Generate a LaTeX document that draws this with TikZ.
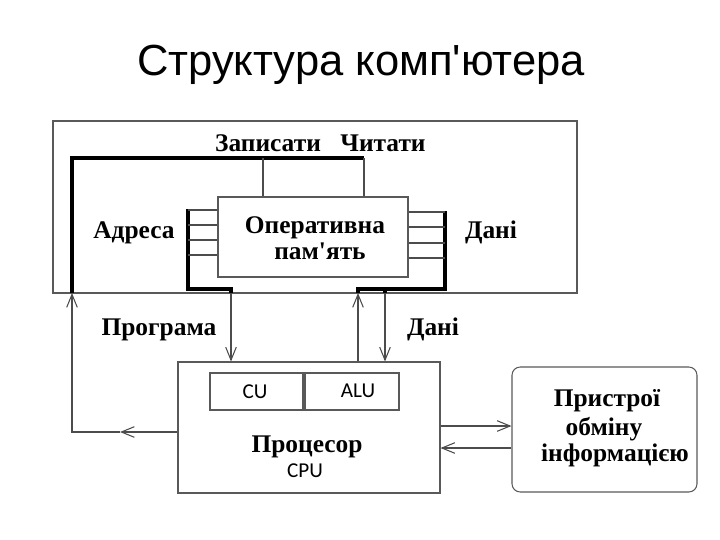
\documentclass[tikz,border=0pt]{standalone}
\usepackage{fontspec}
\setmainfont{Liberation Serif}[Ligatures=TeXOff]
\newfontfamily\titlefont{Liberation Sans}[Ligatures=TeXOff]
\newfontfamily\califont{Carlito}
\usetikzlibrary{arrows.meta}

\tikzset{
  wire/.style={draw=black!70, line width=0.9pt},
  bus/.style={draw=black, line width=3.2pt, line join=miter},
  blk/.style={draw=black!65, line width=0.9pt, inner sep=0pt},
  lbl/.style={font=\bfseries\fontsize{21.6}{25}\selectfont, anchor=base, inner sep=0pt},
  sml/.style={font=\califont\fontsize{18}{21}\selectfont, anchor=base, inner sep=0pt},
  arr/.style={-{Straight Barb[length=11pt,width=9pt]}},
}

\begin{document}
\begin{tikzpicture}[x=0.85pt, y=-0.85pt]
    \useasboundingbox (0,0) rectangle (720,540);
    % заголовок
    \node[font=\titlefont\fontsize{37}{44}\selectfont, anchor=base] (title) at (361,75) {Структура комп'ютера};

    % пам'ять
    \node[blk, minimum width=524*0.85pt, minimum height=172*0.85pt] (mem) at (315,207) {};
    \node[blk, minimum width=190*0.85pt, minimum height=80*0.85pt] (ram) at (313,237) {};
    \node[lbl] (ramA) at (315,233) {Оперативна};
    \node[lbl] (ramB) at (320,259) {пам'ять};
    \node[lbl] (wr) at (268,151) {Записати};
    \node[lbl] (rd) at (383,151) {Читати};
    \node[lbl] (adr) at (134,238) {Адреса};
    \node[lbl] (dat) at (491,238) {Дані};

    % процесор
    \node[blk, minimum width=262*0.85pt, minimum height=131*0.85pt] (cpu) at (309,427.5) {};
    \node[blk, minimum width=93*0.85pt, minimum height=37*0.85pt] (cu) at (256.5,391.5) {};
    \node[blk, minimum width=94*0.85pt, minimum height=37*0.85pt] (alu) at (352,391.5) {};
    \node[sml] (cuT) at (255,398) {CU};
    \node[sml] (aluT) at (358,397) {ALU};
    \node[lbl] (cpuA) at (307,452) {Процесор};
    \node[sml] (cpuB) at (305,477) {CPU};
    \node[lbl] (prg) at (159,335) {Програма};
    \node[lbl] (dat2) at (433,335) {Дані};

    % пристрої
    \node[blk, rounded corners=7pt, minimum width=185*0.85pt, minimum height=125*0.85pt] (dev) at (604.5,429.5) {};
    \node[lbl] (devA) at (607,406) {Пристрої};
    \node[lbl] (devB) at (604,435) {обміну};
    \node[lbl] (devC) at (615,461) {інформацією};

    % шина керування
    \coordinate (kL) at (72,293);
    \coordinate (kT) at (72,158);
    \coordinate (kR) at (364,158);
    \coordinate (zap) at (263,158);
    \draw[bus] (kL) -- (kT) -- (kR);
    \draw[wire] (zap) -- (zap |- ram.north);
    \draw[wire] (kR) -- (kR |- ram.north);
    \coordinate (ret) at (72,432);
    \coordinate (retM) at (120,432);
    \draw[wire,arr] (cpu.west |- ret) -- (retM);
    \draw[wire,arr] (retM) -- (ret) -- (kL);

    % шина адреси
    \coordinate (aT) at (188,209);
    \coordinate (aB) at (188,289);
    \coordinate (aC) at (231,289);
    \coordinate (aE) at (231,293);
    \draw[bus] (aT) -- (aB) -- (aC) -- (aE);
    \draw[wire,arr] (aE) -- (aE |- cpu.north);
    \foreach \y in {210,225,240,255} {
      \coordinate (t) at (0,\y);
      \draw[wire] (aT |- t) -- (ram.west |- t);
    }

    % шина даних
    \coordinate (dT) at (445,211);
    \coordinate (dB) at (445,289);
    \coordinate (dC) at (358,289);
    \coordinate (dE) at (358,293);
    \coordinate (dF) at (385,289);
    \coordinate (dG) at (385,293);
    \draw[bus] (dT) -- (dB) -- (dC) -- (dE);
    \draw[bus] (dF) -- (dG);
    \draw[wire,arr] (dE |- cpu.north) -- (dE);
    \draw[wire,arr] (dG) -- (dG |- cpu.north);
    \foreach \y in {212,227,243,258} {
      \coordinate (t) at (0,\y);
      \draw[wire] (ram.east |- t) -- (dT |- t);
    }

    % обмін
    \coordinate (o1) at (440,426);
    \coordinate (o2) at (440,448);
    \draw[wire,arr] (cpu.east |- o1) -- (dev.west |- o1);
    \draw[wire,arr] (dev.west |- o2) -- (cpu.east |- o2);
\end{tikzpicture}
\end{document}
